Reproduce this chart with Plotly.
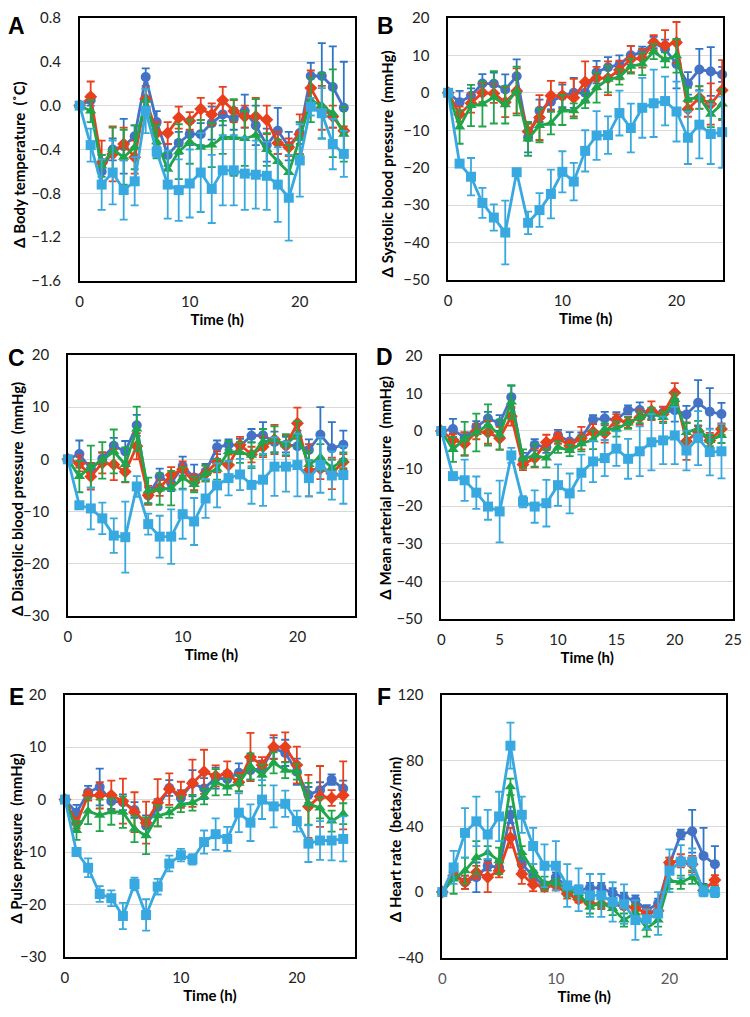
import plotly.graph_objects as go

hours = list(range(25))

# ---------------- Panel A: body temperature ----------------
A_circle = [0, 0.05, -0.60, -0.40, -0.37, -0.28, 0.26, -0.15, -0.45, -0.34, -0.26, -0.26, -0.16, -0.08, -0.12, -0.05, -0.18, -0.36, -0.23, -0.37, -0.25, 0.27, 0.27, 0.17, -0.02]
A_circle_err = [0, 0.05, 0.15, 0.10, 0.25, 0.10, 0.08, 0.10, 0.10, 0.10, 0.10, 0.10, 0.15, 0.10, 0.10, 0.15, 0.18, 0.15, 0.21, 0.13, 0.10, 0.12, 0.30, 0.37, 0.42]
A_diamond = [0, 0.08, -0.52, -0.44, -0.35, -0.47, 0.06, -0.25, -0.25, -0.11, -0.14, -0.03, -0.08, 0.05, -0.05, -0.10, -0.10, -0.13, -0.34, -0.38, -0.26, 0.16, -0.02, -0.10, -0.23]
A_diamond_err = [0, 0.14, 0.20, 0.25, 0.15, 0.15, 0.10, 0.10, 0.10, 0.10, 0.08, 0.10, 0.10, 0.12, 0.10, 0.10, 0.17, 0.13, 0.10, 0.08, 0.18, 0.16, 0.20, 0.10, 0.04]
A_triangle = [0, -0.05, -0.55, -0.40, -0.47, -0.38, 0.05, -0.33, -0.58, -0.42, -0.33, -0.38, -0.36, -0.29, -0.29, -0.30, -0.27, -0.40, -0.51, -0.61, -0.30, 0.05, 0.0, -0.07, -0.26]
A_triangle_err = [0, 0.10, 0.10, 0.20, 0.25, 0.20, 0.10, 0.15, 0.15, 0.25, 0.20, 0.25, 0.20, 0.15, 0.35, 0.25, 0.33, 0.15, 0.20, 0.25, 0.15, 0.20, 0.30, 0.40, 0.25]
A_square = [0, -0.36, -0.72, -0.61, -0.77, -0.69, -0.05, -0.42, -0.72, -0.77, -0.71, -0.61, -0.76, -0.59, -0.59, -0.62, -0.63, -0.64, -0.72, -0.84, -0.50, -0.01, -0.07, -0.35, -0.44]
A_square_err = [0, 0.15, 0.23, 0.29, 0.27, 0.22, 0.20, 0.05, 0.31, 0.28, 0.31, 0.36, 0.31, 0.32, 0.32, 0.33, 0.31, 0.31, 0.34, 0.39, 0.33, 0.08, 0.23, 0.23, 0.21]

# ---------------- Panel B: systolic ----------------
B_circle = [0, -2.5, -0.8, 2.5, 2.4, 0.9, 4.4, -11.9, -4.8, -2.4, -0.8, 0.0, 0.0, 5.5, 6.8, 7.5, 10.0, 10.8, 13.4, 11.7, 7.7, 2.5, 6.2, 5.7, 4.9]
B_circle_err = [0, 3, 2, 2.5, 3, 4, 4.5, 4, 3, 2, 3, 4, 2, 3, 2.7, 2.5, 2.5, 1.5, 1.5, 2.5, 6.5, 3, 5.5, 6.5, 2]
B_diamond = [0, -5.7, -2.8, 0.0, -0.2, -2.5, 0.5, -10.3, -6.6, -0.8, -0.8, -1.3, 2.9, 3.9, 3.9, 6.1, 9.0, 9.2, 13.4, 12.7, 13.4, -4.4, -1.3, -3.0, 0.7]
B_diamond_err = [0, 2, 2.5, 2.5, 2.5, 4, 6, 2, 6, 4, 3.5, 5, 5.5, 3, 4.5, 2.5, 3.5, 2.5, 2, 4, 5.5, 2, 3, 5.5, 8]
B_triangle = [0, -9.1, -3.4, -3.0, -1.2, -3.2, 0.5, -12.3, -8.7, -8.1, -4.6, -4.8, -2.1, 1.4, 3.6, 4.2, 7.1, 7.7, 11.0, 8.8, 9.9, -1.7, -1.2, -5.7, -3.0]
B_triangle_err = [0, 4.5, 5.5, 6, 7, 5, 6.5, 4.5, 4.5, 3, 4, 2, 2, 4, 3.5, 2, 2, 3, 2, 2, 4.5, 3, 3, 3.5, 4]
B_square = [0, -18.9, -22.4, -29.4, -33.3, -37.3, -21.2, -34.7, -31.3, -27.0, -21.1, -23.7, -15.5, -11.4, -11.3, -5.4, -9.4, -4.0, -2.8, -2.2, -5.0, -12.0, -8.5, -11.0, -10.5]
B_square_err = [0, 0.5, 5, 4, 3.5, 8.5, 0.5, 3, 4.5, 6.5, 5.5, 5, 5.5, 6.5, 5, 6, 6.5, 8, 9, 6.5, 8, 7, 9, 8, 9.5]

# ---------------- Panel C: diastolic ----------------
C_circle = [0, 1.0, -1.9, 0.1, 2.6, 1.5, 6.5, -6.9, -3.3, -4.6, -1.3, -3.5, -2.4, 2.3, 2.8, 2.6, 4.5, 4.6, 3.3, 2.8, 2.5, 1.8, 4.7, 2.1, 2.8]
C_circle_err = [0, 2.6, 1.2, 1.2, 1.5, 2, 2, 1.5, 1.5, 1.5, 1.8, 2.5, 1.5, 1.3, 1, 1.3, 1.3, 2.5, 2, 1.5, 3, 2, 5.3, 5, 2.7]
C_diamond = [0, -0.8, -3.3, -0.7, -1.0, -2.4, 2.5, -6.9, -5.5, -3.0, -1.9, -4.4, -2.7, -0.5, -1.1, 2.8, 0.9, 2.4, 3.8, 2.6, 6.9, -2.1, -1.8, -2.7, -0.5]
C_diamond_err = [0, 1.5, 2.5, 2, 3, 2, 2.5, 1.8, 1.5, 1.5, 1.5, 1.5, 1.5, 2, 2, 1.5, 1.5, 2, 2.8, 2, 3, 5, 2, 3, 1.5]
C_triangle = [0, -3.3, -1.4, -0.2, 1.5, -1.0, 5.8, -6.0, -5.7, -5.5, -3.6, -4.8, -2.7, -1.9, 1.5, 1.3, 0.8, 3.3, 3.8, 2.8, 4.8, -1.0, 0.4, -1.6, -0.2]
C_triangle_err = [0, 3, 4, 3.5, 4.2, 3.3, 4.3, 2.5, 3, 3.3, 2, 1.5, 1.5, 2, 2, 2, 2.5, 2.5, 2.5, 2, 2.5, 2.5, 2.5, 1.5, 1.5]
C_square = [0, -8.8, -9.4, -11.3, -14.6, -14.9, -5.2, -12.4, -14.8, -14.8, -10.5, -11.9, -7.5, -5.0, -3.6, -2.9, -4.9, -3.9, -1.4, -1.4, -1.1, -3.6, -1.1, -3.1, -3.0]
C_square_err = [0, 0.5, 4, 3, 3.3, 6.8, 2, 2, 4, 5.2, 4.7, 4.5, 3.7, 4.2, 3.3, 3, 3.6, 5, 5.6, 4.8, 6, 3.5, 5.3, 4.6, 5.5]

# ---------------- Panel D: mean arterial ----------------
D_circle = [0, 0.5, -1.9, 1.1, 3.3, 2.1, 9.0, -7.8, -3.7, -4.3, -1.2, -2.8, -1.9, 3.0, 3.3, 3.0, 5.6, 5.6, 4.5, 4.9, 5.5, 4.4, 7.5, 5.1, 4.5]
D_circle_err = [0, 2.7, 1.5, 1.5, 1.8, 2.1, 3, 2, 1.5, 1.5, 1.5, 2.5, 1.5, 1.2, 1.8, 2, 1.2, 2, 1.5, 1.5, 3, 2.3, 6, 6.3, 3]
D_diamond = [0, -2.3, -3.4, -0.2, -0.4, -1.9, 3.9, -8.9, -7.2, -3.0, -1.9, -3.9, -1.9, -0.2, -0.6, 3.0, 2.3, 3.6, 5.4, 4.5, 10.2, -2.7, -0.2, -2.5, 0.5]
D_diamond_err = [0, 1.5, 3, 2, 3, 3, 2.5, 1.5, 2.5, 2, 1.5, 1.5, 3, 2, 2.5, 1.5, 1.5, 2, 2.5, 2, 2.5, 5, 1.5, 2, 1.5]
D_triangle = [0, -4.9, -2.1, -0.4, 1.6, -1.0, 7.7, -7.4, -6.5, -7.2, -4.3, -5.2, -3.4, -2.3, 0.5, 0.5, 2.1, 3.6, 4.7, 3.6, 8.4, -0.4, 0.7, -2.5, -1.2]
D_triangle_err = [0, 3.3, 4.5, 5, 5.5, 4, 4.5, 2.5, 3, 2.5, 1.5, 1.5, 2, 2.5, 1.5, 2, 1.5, 1.5, 1.5, 1.5, 1.5, 2.5, 2, 1.5, 2]
D_square = [0, -12.0, -13.1, -16.4, -20.1, -21.4, -6.5, -18.8, -20.1, -19.2, -14.4, -16.6, -11.1, -8.1, -7.2, -4.7, -7.4, -5.4, -3.0, -2.5, -1.2, -5.2, -1.9, -5.6, -5.4]
D_square_err = [0, 0.5, 5.5, 4.3, 3.5, 8.2, 2, 1.5, 4.3, 6.2, 5.5, 5.3, 4.8, 5.5, 4.8, 4.6, 5.3, 6.6, 7.5, 6.3, 7.6, 5.3, 7.2, 6.2, 7.2]

# ---------------- Panel E: pulse pressure ----------------
E_circle = [0, -2.5, 1.4, 2.4, -0.3, -0.5, -2.0, -5.0, -1.4, 2.2, 0.3, 3.1, 2.1, 4.1, 3.9, 5.1, 5.6, 5.9, 9.8, 8.9, 5.3, 0.9, 1.8, 3.8, 2.1]
E_circle_err = [0, 1.5, 1.2, 3.5, 1.5, 1.5, 1.5, 2, 1.5, 1.5, 1.5, 2.5, 2, 2, 1.5, 1.8, 1.8, 1.5, 2, 2.5, 2.5, 1.5, 1.5, 1, 1.5]
E_diamond = [0, -4.5, 0.8, 0.8, 0.8, -0.3, -2.4, -4.4, -0.6, 2.0, 0.9, 3.1, 5.3, 4.5, 4.9, 3.3, 8.1, 6.6, 10.0, 10.0, 6.6, -1.3, 0.6, 0.3, 0.8]
E_diamond_err = [0, 1, 1, 2.5, 2.8, 4.3, 3.8, 4, 4.5, 3, 2.5, 4.5, 4.2, 2, 2.4, 1.8, 4.6, 1.5, 2.3, 2.8, 3.5, 6, 5.8, 1.5, 6.5]
E_triangle = [0, -5.9, -2.2, -3.0, -2.3, -2.4, -5.6, -6.9, -3.1, -2.5, -0.9, -0.6, 0.6, 3.3, 2.4, 3.1, 6.3, 4.7, 7.0, 5.6, 5.3, -0.8, -1.6, -4.1, -2.7]
E_triangle_err = [0, 1.8, 2.5, 3, 2.5, 3, 2.5, 3.5, 2, 1, 1.5, 1.5, 1.5, 2.5, 1.5, 1.5, 2.5, 2, 2, 1.5, 1.5, 4, 2, 2, 2]
E_square = [0, -10.0, -13.0, -18.0, -18.8, -22.2, -16.1, -22.0, -16.6, -12.2, -10.6, -11.4, -8.1, -6.6, -7.5, -2.5, -4.4, 0.0, -1.3, -0.8, -4.1, -8.4, -7.8, -7.8, -7.5]
E_square_err = [0, 0.8, 1.8, 1.5, 1.5, 2.5, 1.2, 3, 1.5, 1.5, 1.2, 1, 2.2, 3, 2.3, 3.7, 3.5, 3.7, 4, 2.5, 2, 3.5, 3.7, 3.8, 4.3]

# ---------------- Panel F: heart rate ----------------
F_circle = [0, 12, 6, 9, 16, 15, 47, 17, 10, 3.4, 9, 3.4, 1, 2.6, 2.6, -0.6, -3.4, -5, -11, -7, 17, 35, 37, 22, 17]
F_circle_err = [0, 3, 4, 9, 3, 4, 5, 4, 3, 2, 3, 3, 3, 3, 3, 3, 3, 3, 3, 3, 4, 3, 13, 17, 11]
F_diamond = [0, 10, 6, 12, 9, 13, 33, 11, 4.6, 3.4, 4, -1, -4.4, -7, -7.3, -7.3, -8.5, -9.5, -13, -11.3, 18, 19, 17, 1, 7.3]
F_diamond_err = [0, 2, 4, 4, 9, 4, 6, 6, 4, 3, 3, 3, 2, 3, 3, 3, 2, 2, 3, 3, 3, 4, 5, 3, 3]
F_triangle = [0, 8, 13, 21, 24, 19, 64, 24, 13, 5.4, 6, 1.4, -1, -9, -6.5, -10, -17, -12.5, -22, -17, 7, 6, 9, 1.4, 0]
F_triangle_err = [0, 9, 8, 10, 4, 8, 5, 4, 4, 4, 2, 4, 3, 4, 3, 4, 4, 5, 5, 4, 5, 4, 4, 3, 3]
F_square = [0, 15, 36, 43, 35, 46, 89, 47, 28, 16, 16, 4, 1.4, -2, -2, -6, -7.3, -17, -16.5, -13, 13, 18.5, 18.5, 0.4, 0]
F_square_err = [0, 10, 15, 15, 15, 15, 14, 11, 11, 13, 15, 13, 13, 13, 13, 12, 12, 12, 6, 13, 13, 10, 8, 3, 3]

panels = [
    ("A", "Δ Body temperature  (˚C)", [-1.6, 0.8], 0.4, 10, [0, 25],
     [(A_circle, A_circle_err), (A_diamond, A_diamond_err), (A_triangle, A_triangle_err), (A_square, A_square_err)]),
    ("B", "Δ Systolic blood pressure  (mmHg)", [-50, 20], 10, 10, [0, 24.1],
     [(B_circle, B_circle_err), (B_diamond, B_diamond_err), (B_triangle, B_triangle_err), (B_square, B_square_err)]),
    ("C", "Δ Diastolic blood pressure  (mmHg)", [-30, 20], 10, 10, [0, 25],
     [(C_circle, C_circle_err), (C_diamond, C_diamond_err), (C_triangle, C_triangle_err), (C_square, C_square_err)]),
    ("D", "Δ Mean arterial pressure  (mmHg)", [-50, 20], 10, 5, [0, 25],
     [(D_circle, D_circle_err), (D_diamond, D_diamond_err), (D_triangle, D_triangle_err), (D_square, D_square_err)]),
    ("E", "Δ Pulse pressure  (mmHg)", [-30, 20], 10, 10, [0, 25],
     [(E_circle, E_circle_err), (E_diamond, E_diamond_err), (E_triangle, E_triangle_err), (E_square, E_square_err)]),
    ("F", "Δ Heart rate  (betas/min)", [-40, 120], 40, 10, [0, 25],
     [(F_circle, F_circle_err), (F_diamond, F_diamond_err), (F_triangle, F_triangle_err), (F_square, F_square_err)]),
]

W, H = 750, 1017
# plot-area boxes in page pixels (left, right, top, bottom)
boxes = [
    (77, 357, 8, 276),
    (452, 732, 8, 275),
    (65, 357, 351, 617),
    (445, 742, 352, 620),
    (62, 357, 697, 964),
    (446, 735, 697, 965),
]
letter_pos = [(13, 16), (388, 16), (13, 354), (387, 353), (13, 699), (387, 699)]
ytitle_x = [15, 390, 13, 388, 12, 398]
ytitle_y = [157, 157, 498, 486, 844, 845]
tick_font_colors = ["#222", "#222", "#222", "#222", "#222", "#595959"]


def px(x):
    return x / W


def py(y):
    return 1 - y / H


styles = [
    dict(color="#4472C4", err="#2E75C8", symbol="circle", size=10),
    dict(color="#E8401C", err="#E8401C", symbol="diamond", size=10),
    dict(color="#1FA64A", err="#1FA64A", symbol="triangle-up", size=10),
    dict(color="#38A9E0", err="#38A9E0", symbol="square", size=10),
]

fig = go.Figure()
annotations = []
layout = {}
for i, (letter, ytitle, yr, ydt, xdt, xr, series) in enumerate(panels):
    l, r, t, b = boxes[i]
    xa = "xaxis" if i == 0 else f"xaxis{i+1}"
    ya = "yaxis" if i == 0 else f"yaxis{i+1}"
    xref = "x" if i == 0 else f"x{i+1}"
    yref = "y" if i == 0 else f"y{i+1}"
    for (vals, errs), st in zip(series, styles):
        fig.add_trace(go.Scatter(
            x=hours, y=vals, xaxis=xref, yaxis=yref, mode="lines+markers",
            line=dict(color=st["color"], width=2.8),
            marker=dict(symbol=st["symbol"], size=st["size"], color=st["color"]),
            error_y=dict(type="data", array=errs, visible=True, color=st["err"], thickness=1.8, width=4),
            showlegend=False, hoverinfo="skip", cliponaxis=False))
    layout[xa] = dict(domain=[px(l), px(r)], anchor=yref, range=xr, dtick=xdt, tick0=0,
                      showgrid=False, zeroline=False, showline=True, linecolor="black", linewidth=1.5,
                      mirror=True, ticks="", ticklabeloverflow="allow", ticklabelstandoff=6,
                      tickfont=dict(family="Lato", size=15, color=tick_font_colors[i]),
                      title=dict(text="<b>Time (h)</b>", font=dict(family="Lato", size=15, color="black"), standoff=2))
    layout[ya] = dict(domain=[py(b), py(t)], anchor=xref, range=yr, dtick=ydt, tick0=yr[0],
                      showgrid=True, gridcolor="#D9D9D9", gridwidth=1.2, zeroline=False,
                      showline=True, linecolor="black", linewidth=1.5, mirror=True, ticks="",
                      tickformat=".1f" if i == 0 else "d", ticklabeloverflow="allow",
                      tickfont=dict(family="Lato", size=15, color="#222"), ticklabelstandoff=14)
    annotations.append(dict(text=f"<b>{letter}</b>", x=px(letter_pos[i][0]), y=py(letter_pos[i][1]),
                            xref="paper", yref="paper", showarrow=False, xanchor="center", yanchor="middle",
                            font=dict(family="Liberation Sans", size=23, color="black")))
    annotations.append(dict(text=f"<b>{ytitle}</b>", x=px(ytitle_x[i]), y=py(ytitle_y[i]),
                            xref="paper", yref="paper", showarrow=False, textangle=-90,
                            xanchor="center", yanchor="middle",
                            font=dict(family="Lato", size=15, color="black")))

fig.update_layout(width=W, height=H, margin=dict(l=0, r=0, t=0, b=0),
                  paper_bgcolor="white", plot_bgcolor="white", annotations=annotations, **layout)
# remove the browser's default 8px body margin so the figure sits at the page origin
fig.write_html("out.html", config={"displayModeBar": False},
               post_script="document.body.style.margin='0';document.body.style.overflow='hidden';")
